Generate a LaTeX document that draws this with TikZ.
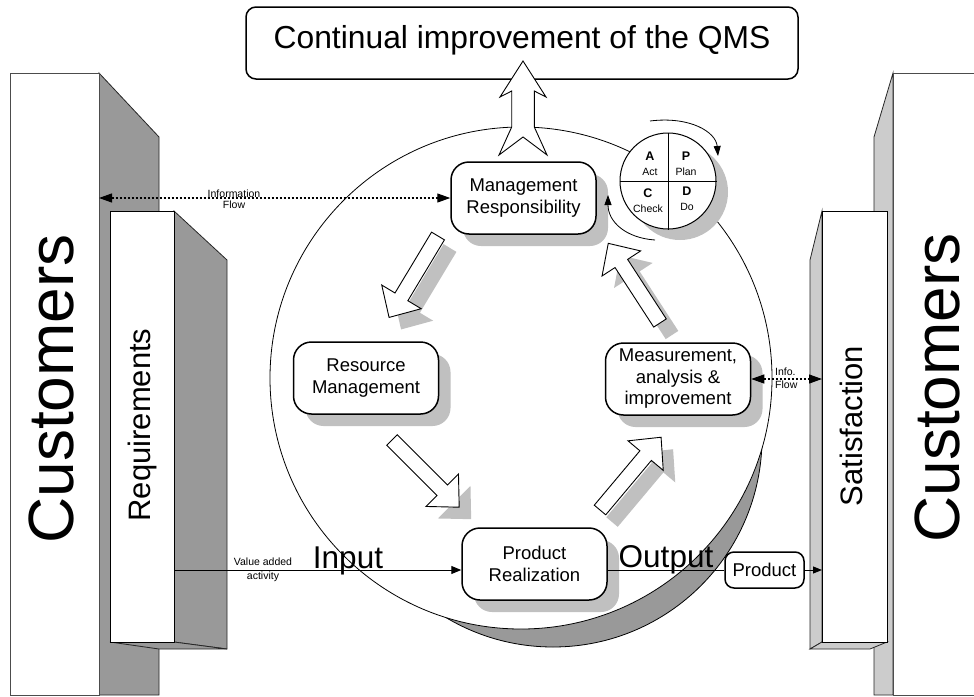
\documentclass[tikz,border=0pt]{standalone}
\usepackage{fontspec}
\setmainfont{Liberation Sans}
\usetikzlibrary{arrows.meta,calc,positioning,shadows}
\definecolor{sidegray}{HTML}{999999}
\definecolor{sidelight}{HTML}{CCCCCC}
\definecolor{shadowgray}{HTML}{C0C0C0}

\begin{document}
\begin{tikzpicture}[x=1pt, y=-1pt,
    face/.style={draw=black!70, line width=0.8pt, fill=white, inner sep=0pt, outer sep=0pt},
    leftwall/.style={draw=black!85, line width=0.8pt, fill=sidegray},
    rightwall/.style={draw=black!85, line width=0.8pt, fill=sidelight},
    process/.style={draw, line width=1.5pt, fill=white, rounded corners=18pt, align=center,
        minimum width=145pt, minimum height=72pt, inner sep=0pt,
        font=\fontsize{18.5}{21.5}\selectfont,
        drop shadow={shadow xshift=12pt, shadow yshift=-12pt, opacity=1, fill=shadowgray}},
    blockarrow/.style={draw, line width=0.9pt, fill=white},
    bigtext/.style={font=\fontsize{64}{64}\selectfont, rotate=90, anchor=base},
    sidetext/.style={font=\fontsize{31}{31}\selectfont, rotate=90, anchor=base},
    flowtext/.style={font=\fontsize{31.5}{31.5}\selectfont, anchor=base, inner sep=0pt},
    tinytext/.style={font=\fontsize{10.5}{11.5}\selectfont, align=center, inner sep=0pt},
    quad/.style={font=\fontsize{10.5}{15}\selectfont, align=center, inner sep=0pt},
    infoflow/.style={{Triangle[length=13pt,width=9pt]}-{Triangle[length=13pt,width=9pt]},
        line width=1.2pt, dash pattern=on 2.5pt off 1.5pt},
    link/.style={line width=1pt},
]
\useasboundingbox (0,0) rectangle (974,696);
\clip (0,0) rectangle (974,696);

% customers and requirements, left
\filldraw[leftwall] (99,73) -- (159,137) -- (159,695) -- (99,695) -- cycle;
\node[face, minimum width=89pt, minimum height=622pt] (custL) at (54.5,384) {};
\node[bigtext] (custLtext) at (73,389) {Customers};
\filldraw[leftwall] (174,211) -- (227,260) -- (227,649) -- (174,642) -- cycle;
\filldraw[leftwall] (110,642) -- (174,642) -- (227,649) -- (159,649) -- cycle;
\node[face, draw=black, minimum width=64pt, minimum height=431pt] (req) at (142,426.5) {};
\node[sidetext] (reqtext) at (150,425) {Requirements};

% customers and satisfaction, right
\filldraw[rightwall] (893,73) -- (874,137) -- (874,695) -- (893,695) -- cycle;
\node[face, minimum width=82pt, minimum height=622pt] (custR) at (934,384) {};
\node[bigtext] (custRtext) at (959,388) {Customers};
\filldraw[rightwall] (822,211) -- (810,260) -- (810,649) -- (822,642) -- cycle;
\filldraw[rightwall] (810,649) -- (822,642) -- (887,642) -- (870,649) -- cycle;
\node[face, draw=black, minimum width=65pt, minimum height=431pt] (sat) at (854.5,426.5) {};
\node[sidetext] (sattext) at (862,426) {Satisfaction};

% the process disc
\filldraw[draw=black, line width=0.8pt, fill=sidegray] (553,438) circle[radius=209];
\filldraw[draw=black, line width=0.8pt, fill=white] (521,378) circle[radius=251];

% arrows of the cycle
\foreach \tx/\ty/\ang in {438/236/239, 392/440/315, 600/510/50, 660/323/123} {
    \fill[shadowgray, shift={(\tx+12,\ty+12)}, rotate=\ang]
        (0,-7.5) -- (71,-7.5) -- (71,-23) -- (95,0) -- (71,23) -- (71,7.5) -- (0,7.5) -- cycle;
    \draw[blockarrow, shift={(\tx,\ty)}, rotate=\ang]
        (0,-7.5) -- (71,-7.5) -- (71,-23) -- (95,0) -- (71,23) -- (71,7.5) -- (0,7.5) -- cycle;
}

\node[process] (mgmt) at (523.5,198) {Management\\Responsibility};
\node[process] (res) at (366,378) {Resource\\Management};
\node[process] (meas) at (678,379) {Measurement,\\analysis \&\\improvement};
\node[process] (prod) at (534.5,564) {Product\\Realization};

% PDCA
\node[circle, draw, line width=1pt, fill=white, minimum size=96pt, inner sep=0pt,
    drop shadow={shadow xshift=12pt, shadow yshift=-11pt, opacity=1, fill=shadowgray}] (pdca) at (668,181) {};
\draw[line width=0.9pt] (pdca.north) -- (pdca.south);
\draw[line width=0.9pt] (pdca.west) -- (pdca.east);
\foreach \lt/\qword/\px/\py in {A/Act/650/164, P/Plan/686/164, C/Check/648/201, D/Do/687/199}
    \node[quad] (q\lt) at (\px,\py) {{\bfseries\fontsize{12.5}{15}\selectfont \lt}\\\qword};
\coordinate (turnA) at (650,121);
\coordinate (turnB) at (718,156);
\coordinate (turnC) at (655,240);
\coordinate (turnD) at (608,195);
\draw[line width=0.8pt, -{Triangle[length=10pt,width=7pt]}] (turnA) .. controls (690,116) and (716,132) .. (turnB);
\draw[line width=0.8pt, -{Triangle[length=10pt,width=7pt]}] (turnC) .. controls (626,238) and (608,222) .. (turnD);

% continual improvement
\node[draw, line width=1.5pt, fill=white, rounded corners=10pt, minimum width=552pt, minimum height=72pt,
    inner sep=0pt, text height=23pt, text depth=13pt, font=\fontsize{31.8}{32}\selectfont] (cqms) at (522,43)
    {Continual improvement of the QMS};
\draw[blockarrow, shift={(523,61)}]
    (0,0) -- (23,36) -- (11.3,30) -- (11.3,66) -- (24,94) -- (0,76) -- (-24,94) -- (-11.3,66)
    -- (-11.3,30) -- (-23,36) -- cycle;

% input, output and information flows
\node[draw, line width=1.5pt, fill=white, rounded corners=9pt, minimum width=79pt, minimum height=36pt,
    inner sep=0pt, font=\fontsize{18.5}{20}\selectfont] (prodout) at (764.5,570) {Product};
\coordinate (flowY) at (0,570);
\draw[link, -{Triangle[length=10pt,width=8pt]}] (req.east |- flowY) -- (prod.west |- flowY);
\draw[link] (prod.east |- flowY) -- (prodout.west);
\draw[link, -{Triangle[length=9pt,width=7pt]}] (prodout.east) -- (sat.west |- prodout.east);
\draw[infoflow] (custL.east |- mgmt.west) -- (mgmt.west);
\draw[infoflow] (meas.east) -- (sat.west |- meas.east);

\node[flowtext] (inputlbl) at (348,568) {Input};
\node[flowtext] (outputlbl) at (666,567) {Output};
\node[tinytext, font=\fontsize{10.5}{14}\selectfont] (valuelbl) at (263,570) {Value added\\activity};
\node[tinytext] (infolbl) at (234,199) {Information\\Flow};
\node[tinytext, align=left, anchor=west, font=\fontsize{10.5}{13}\selectfont] (infolblR) at (775,378) {Info.\\Flow};
\end{tikzpicture}
\end{document}
